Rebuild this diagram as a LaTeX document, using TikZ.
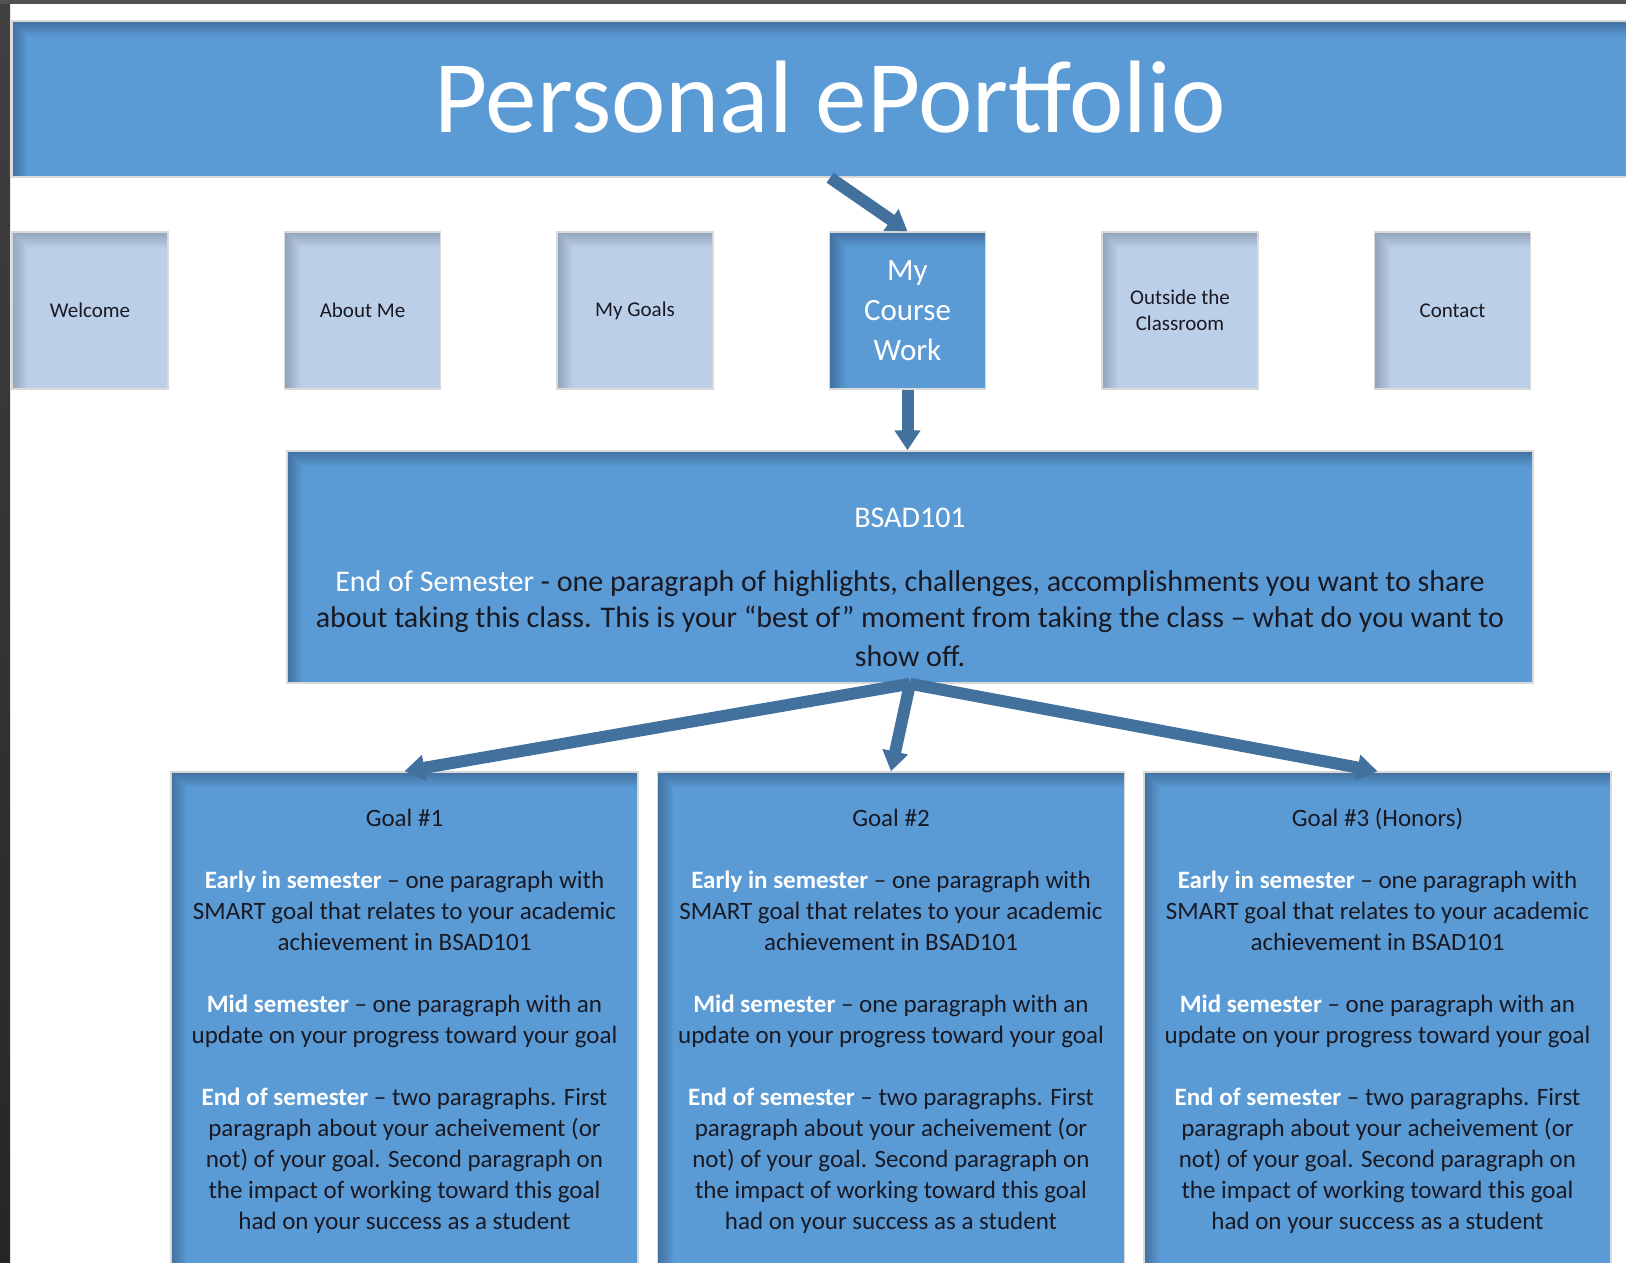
\documentclass[tikz,border=0pt]{standalone}
\usepackage{fontspec}
\setmainfont{Carlito}
\usetikzlibrary{arrows.meta,positioning,calc}

\definecolor{barblue}{RGB}{91,155,213}
\definecolor{paleblue}{RGB}{188,207,232}
\definecolor{arrowblue}{RGB}{65,113,156}
\definecolor{shadeblue}{RGB}{66,112,160}
\definecolor{shadepale}{RGB}{146,164,188}
\definecolor{inkdark}{RGB}{25,25,35}

\newcommand{\goalbody}{%
  {\color{white}\bfseries Early in semester} – one paragraph with\\
  SMART goal that relates to your academic\\
  achievement in BSAD101\\[31pt]
  {\color{white}\bfseries Mid semester} – one paragraph with an\\
  update on your progress toward your goal\\[31pt]
  {\color{white}\bfseries End of semester} – two paragraphs. First\\
  paragraph about your acheivement (or\\
  not) of your goal. Second paragraph on\\
  the impact of working toward this goal\\
  had on your success as a student}

\begin{document}
\begin{tikzpicture}[
                        x=1pt,
                        y=-1pt,
                        node distance=115pt,
                        inshade/.style 2 args={path picture={
                            \foreach \k in {0,...,15}{
                              \pgfmathtruncatemacro\mixpct{100-\k*100/16}
                              \fill[#1!\mixpct!#2]
                                ($(path picture bounding box.north west)+(\k,\k)$) rectangle
                                ($(path picture bounding box.north east)+(0,\k+1)$);
                              \fill[#1!\mixpct!#2]
                                ($(path picture bounding box.north west)+(\k,\k)$) rectangle
                                ($(path picture bounding box.south west)+(\k+1,0)$);
                            }
                        }},
                        navbox/.style={rectangle,fill=paleblue,draw=black!15,line width=1.5pt,
                            minimum width=156pt,minimum height=157pt,inner sep=0pt,align=center,
                            text=inkdark,font=\fontsize{21}{26}\selectfont,
                            inshade={shadepale}{paleblue}},
                        navactive/.style={navbox,fill=barblue,text=white,
                            font=\fontsize{31}{40}\selectfont,inshade={shadeblue}{barblue}},
                        goalbox/.style={rectangle,fill=barblue,draw=black!15,line width=1.5pt,
                            minimum width=467pt,minimum height=498pt,align=center,
                            text=inkdark,font=\fontsize{25}{31}\selectfont,
                            inshade={shadeblue}{barblue}},
                        link/.style={arrowblue,line width=12pt,
                            -{Triangle[length=20pt,width=25pt]}}
                    ]
                    \tikzstyle{headband}=[rectangle,fill=barblue,draw=black!15,line width=1.5pt,
                        minimum width=1636pt,minimum height=156pt,text=white,
                        font=\fontsize{103}{110}\selectfont,text height=80pt,text depth=14pt,
                        inshade={shadeblue}{barblue}]

                    \useasboundingbox (0,0) rectangle (1626,1263);
                    \fill[white] (0,0) rectangle (1626,1263);
                    \fill[top color=black!75,bottom color=black!85] (0,0) rectangle (10,1263);
                    \fill[black!68] (0,0) rectangle (1626,4);

                    \node[headband] (title) at (830,99) {Personal ePortfolio};

                    \node[navbox]    (welcome) at (90,310.5)         {Welcome};
                    \node[navbox]    (about)   [right=of welcome]    {About Me};
                    \node[navbox]    (goals)   [right=of about]      {My Goals};
                    \node[navactive] (course)  [right=of goals]      {My\\Course\\Work};
                    \node[navbox]    (outside) [right=of course]     {Outside the\\Classroom};
                    \node[navbox]    (contact) [right=of outside]    {Contact};

                    \node[goalbox,minimum width=1246pt,minimum height=232pt] (bsad) at (910,567) {};
                    \node[anchor=north,inner sep=0pt,align=center,text=inkdark,
                          font=\fontsize{30}{36}\selectfont] (bsadnote) at (910,508)
                        {{\color{white}BSAD101}\\[28pt]
                         {\color{white}End of Semester} - one paragraph of highlights, challenges, accomplishments you want to share\\
                         about taking this class. This is your “best of” moment from taking the class – what do you want to\\[3pt]
                         show off.};

                    \node[goalbox] (goal1) at (404.5,1021)             {Goal \#1\\[31pt]\goalbody};
                    \node[goalbox] (goal2) [right=18pt of goal1]       {Goal \#2\\[31pt]\goalbody};
                    \node[goalbox] (goal3) [right=18pt of goal2]       {Goal \#3 (Honors)\\[31pt]\goalbody};

                    \path[link]
                    (title.south)  edge (course.north)
                    (course.south) edge (course.south |- bsad.north)
                    (bsad.south)   edge (goal1.north)
                    (bsad.south)   edge (goal2.north)
                    (bsad.south)   edge (goal3.north) ;

                \end{tikzpicture}
\end{document}
